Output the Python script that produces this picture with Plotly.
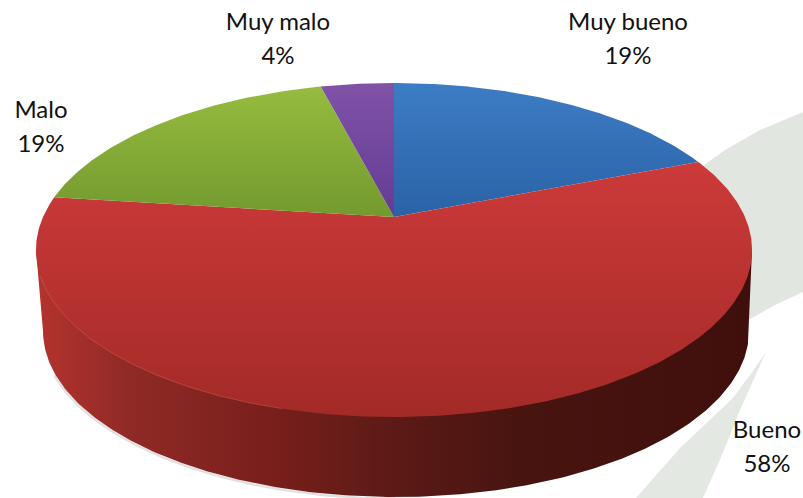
import numpy as np
import plotly.graph_objects as go

categories = ["Muy bueno", "Bueno", "Malo", "Muy malo"]
values = [19, 58, 19, 4]
label_x = [628, 767, 41, 278]
label_y = [24, 432, 112, 24]
line_gap = 34

CX, CY = 394, 217          # projected pie centre
A, B, K = 160.5, 351.0, 0.1976   # perspective of top face
BOT = dict(cx=396, cy=331, rx=353, ry=166)

top_grad = {
    "Muy bueno": ("#3d7cc4", "#2a62a6", 83, 217),
    "Bueno": ("#cc3a3a", "#a32a27", 165, 417),
    "Malo": ("#98bc40", "#729a2e", 83, 217),
    "Muy malo": ("#8052a8", "#633c94", 83, 217),
}

def project(theta):
    u, v = np.sin(theta), np.cos(theta)
    d = 1 + K * v
    return CX + B * u / d, CY - A * v / d

fig = go.Figure()

# background watermark
def blob(xs, ys, c="#e2e6e0"):
    fig.add_trace(go.Scatter(x=xs, y=ys, mode="lines", fill="toself", fillcolor=c,
                             line=dict(width=0), hoverinfo="skip", showlegend=False))

blob([700, 725, 760, 803, 803, 775, 745, 700],
     [168, 150, 130, 112, 292, 305, 322, 300])
blob([766, 750, 733, 680, 636, 703, 722, 740, 766],
     [352, 375, 398, 448, 498, 498, 455, 410, 352], "#e4e8e2")

# soft shadow and side wall
t = np.radians(np.linspace(90, 270, 241))
bx = BOT["cx"] + BOT["rx"] * np.sin(t)
by = BOT["cy"] - BOT["ry"] * np.cos(t)
ts = np.radians(np.linspace(180, 255, 120))
sx = BOT["cx"] + BOT["rx"] * np.sin(ts)
sy = BOT["cy"] - BOT["ry"] * np.cos(ts)
fig.add_trace(go.Scatter(x=sx - 0.5, y=sy + 1.5, mode="lines", line=dict(color="rgba(120,120,120,0.22)", width=2.5),
                         hoverinfo="skip", showlegend=False))
wx = np.r_[752, bx, 36]
wy = np.r_[250, by, 250]
fig.add_trace(go.Scatter(
    x=wx, y=wy, mode="lines", fill="toself", line=dict(width=0), hoverinfo="skip", showlegend=False,
    fillgradient=dict(type="horizontal", start=36, stop=752, colorscale=[
        [0.0, "#b5332d"], [0.13, "#8f2a26"], [0.32, "#7a1f1c"], [0.5, "#5c1a16"],
        [0.68, "#481410"], [1.0, "#400f0c"]]),
))

# top face
share = np.array(values, float) / sum(values)
edges = np.r_[0, np.cumsum(share)] * 2 * np.pi
for name, a0, a1, v in zip(categories, edges[:-1], edges[1:], values):
    th = np.linspace(a0, a1, max(int(v * 6), 12))
    x, y = project(th)
    xs = np.r_[CX, x, CX]
    ys = np.r_[CY, y, CY]
    c0, c1, s0, s1 = top_grad[name]
    fig.add_trace(go.Scatter(
        x=xs, y=ys, mode="lines", fill="toself", line=dict(width=0), name=name,
        hovertext=f"{name}: {v}%", hoverinfo="text", showlegend=False,
        fillgradient=dict(type="vertical", start=s0, stop=s1, colorscale=[[0, c0], [1, c1]]),
    ))

# rim highlight on the left front edge
th = np.radians(np.linspace(195, 250, 80))
hx, hy = project(th)
fig.add_trace(go.Scatter(x=hx, y=hy, mode="lines", line=dict(color="rgba(225,110,100,0.4)", width=1),
                         hoverinfo="skip", showlegend=False))

# labels
pct = [f"{v}%" for v in values]
fig.add_trace(go.Scatter(
    x=label_x + label_x, y=label_y + [q + line_gap for q in label_y],
    mode="text", text=categories + pct, textposition="middle center",
    textfont=dict(family="Lato, Open Sans, sans-serif", size=24, color="#111111"),
    hoverinfo="skip", showlegend=False,
))

fig.update_layout(
    width=803, height=498, margin=dict(l=0, r=0, t=0, b=0),
    paper_bgcolor="white", plot_bgcolor="white",
    xaxis=dict(range=[0, 803], visible=False, fixedrange=True),
    yaxis=dict(range=[498, 0], visible=False, fixedrange=True),
)
fig.write_html("out.html", config=dict(displayModeBar=False),
               post_script="document.body.style.margin='0';document.body.style.overflow='hidden';")
